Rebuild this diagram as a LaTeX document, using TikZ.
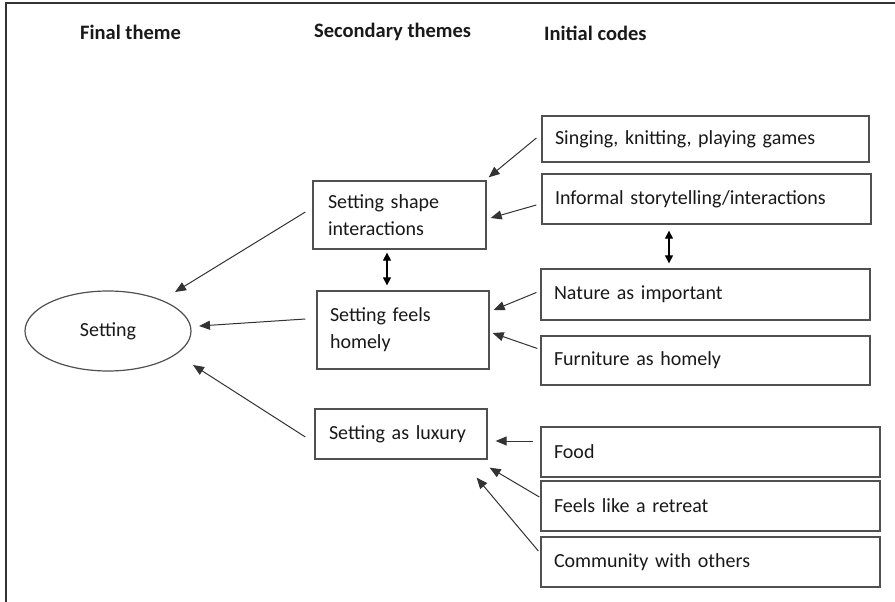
\documentclass[tikz,border=0pt]{standalone}
\usepackage{fontspec}
\setmainfont{Carlito}
\usetikzlibrary{arrows.meta,shapes.geometric}
\definecolor{linegray}{HTML}{333333}
\definecolor{boxgray}{HTML}{505050}
\begin{document}
\begin{tikzpicture}[x=1pt,y=-1pt,
  every node/.style={font=\fontsize{20}{27}\selectfont, text=black!90},
  head/.style={font=\bfseries\fontsize{20.5}{24}\selectfont, anchor=west, inner sep=0pt},
  codebox/.style={draw=boxgray, line width=1.3pt, rectangle, align=left, inner sep=0pt},
  conn/.style={draw=linegray, line width=1pt, -{Triangle[length=11pt,width=9pt]}},
  dconn/.style={draw=black, line width=1.2pt, {Triangle[length=8pt,width=8pt]}-{Triangle[length=8pt,width=8pt]}}
]
\useasboundingbox (0,0) rectangle (895,602);
\fill[white] (0,0) rectangle (895,602);
% frame
\draw[line width=2pt, black!80] (6,602) -- (6,3) -- (895,3);

% headers
\node[head] (h1) at (80,32) {Final theme};
\node[head] (h2) at (314,32) {Secondary themes};
\node[head] (h3) at (544,33) {Initial codes};

% initial codes
\node[codebox, minimum width=327, minimum height=46, text width=301] (sing) at (705.5,139) {Singing, knitting, playing games};
\node[codebox, minimum width=329, minimum height=50, text width=303] (inf) at (706.5,199) {Informal storytelling/interactions};
\node[codebox, minimum width=329, minimum height=51, text width=303] (nat) at (705.5,294.5) {Nature as important};
\node[codebox, minimum width=329, minimum height=49, text width=303] (fur) at (705.5,360.5) {Furniture as homely};
\node[codebox, minimum width=339, minimum height=50, text width=313] (food) at (710.5,452) {Food};
\node[codebox, minimum width=339, minimum height=50, text width=313] (ret) at (710.5,506) {Feels like a retreat};
\node[codebox, minimum width=339, minimum height=50, text width=313] (com) at (710.5,562) {Community with others};

% secondary themes
\node[codebox, minimum width=173, minimum height=68, text width=143] (shape) at (399.5,215) {Setting shape\\interactions};
\node[codebox, minimum width=172, minimum height=78, text width=146] (homely) at (403,330) {Setting feels\\homely};
\node[codebox, minimum width=172, minimum height=50, text width=144] (lux) at (401,434) {Setting as luxury};

% final theme
\node[draw=boxgray, line width=1.2pt, ellipse, minimum width=166, minimum height=80, inner sep=0pt] (set) at (108,331) {Setting};

% arrows into secondary themes
\draw[conn] ([shift={(-5,-1)}]sing.west) -- ([shift={(2,-3)}]shape.north east);
\draw[conn] ([shift={(-5,6)}]inf.west) -- ([shift={(4,3)}]shape.east);
\draw[conn] ([shift={(-4,-2)}]nat.west) -- ([shift={(4,-20)}]homely.east);
\draw[conn] ([shift={(-3,-12)}]fur.west) -- ([shift={(3,3)}]homely.east);
\draw[conn] ([shift={(-7,-11)}]food.west) -- ([shift={(8,7)}]lux.east);
\draw[conn] ([shift={(-1,-9)}]ret.west) -- ([shift={(2,8)}]lux.south east);
\draw[conn] ([shift={(-2,-11)}]com.west) -- ([shift={(-11,18)}]lux.south east);

% double arrows
\draw[dconn] ([shift={(0,3)}]shape.south -| 387,0) -- ([shift={(0,-5)}]homely.north -| 387,0);
\draw[dconn] ([shift={(0,6)}]inf.south -| 669,0) -- ([shift={(0,-5)}]nat.north -| 669,0);

% arrows into final theme
\draw[conn] ([shift={(-7,-3)}]shape.west) -- ([shift={(67,-39)}]set.center);
\draw[conn] ([shift={(-11,-11)}]homely.west) -- ([shift={(91,-5)}]set.center);
\draw[conn] ([shift={(-9,3)}]lux.west) -- ([shift={(85,34)}]set.center);
\end{tikzpicture}
\end{document}
